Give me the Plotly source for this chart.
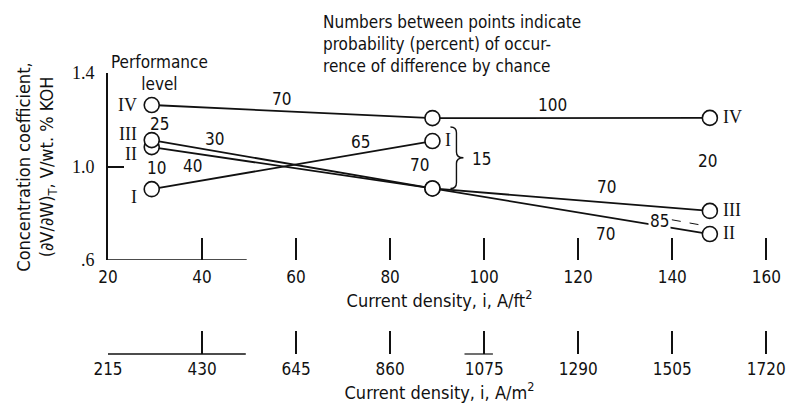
import plotly.graph_objects as go

# ---------------- data ----------------
levels = ["I", "II", "III", "IV"]
density_ft2 = [29.3, 89.0, 148.0]            # A/ft^2 at the three test points
coef_I = [0.903, 1.109]                       # level I (two points)
coef_II = [1.083, 0.906, 0.711]
coef_III = [1.113, 0.906, 0.810]
coef_IV = [1.263, 1.207, 1.208]

ft_ticks = [20, 40, 60, 80, 100, 120, 140, 160]
m2_ticks = [215, 430, 645, 860, 1075, 1290, 1505, 1720]
y_ticks = [0.6, 1.0, 1.4]
y_ticktext = [".6", "1.0", "1.4"]

# probability labels (percent) placed between points
prob_text = ["70", "100", "25", "30", "10", "40", "65", "70", "15", "20", "70", "85", "70"]
prob_x = [56.9, 114.5, 30.9, 42.7, 30.3, 38.05, 73.7, 86.2, 99.5, 147.6, 126.0, 137.3, 125.8]
prob_y = [1.289, 1.263, 1.182, 1.118, 0.994, 1.002, 1.106, 1.006, 1.032, 1.024, 0.912, 0.767, 0.711]

# ---------------- geometry ----------------
W, H = 793, 404
ML, MR, MT, MB = 108, 7, 73, 50
PW, PH = W - ML - MR, H - MT - MB
Y_AXIS_BOTTOM_PX = 260
ydom0 = (H - MB - Y_AXIS_BOTTOM_PX) / PH
FT_RANGE = [20, 161]
M2_PER_FT2 = 10.75

def px_to_paper(px, py):
    return (px - ML) / PW, (H - MB - py) / PH

SANS = "DejaVu Sans Condensed, DejaVu Sans, sans-serif"
SERIF = "Liberation Serif, DejaVu Serif, serif"
BLACK = "#111111"

fig = go.Figure()

line_style = dict(color=BLACK, width=1.8)
marker_style = dict(symbol="circle", size=15, color="white", line=dict(color=BLACK, width=1.6))

series = [("I", density_ft2[:2], coef_I), ("II", density_ft2, coef_II),
          ("III", density_ft2, coef_III), ("IV", density_ft2, coef_IV)]
for name, xs, ys in series:
    fig.add_trace(go.Scatter(x=xs, y=ys, mode="lines+markers", name=name,
                             line=line_style, marker=marker_style,
                             showlegend=False, hoverinfo="skip", cliponaxis=False))

# invisible trace to activate the SI axis
fig.add_trace(go.Scatter(x=[m2_ticks[0], m2_ticks[-1]], y=[None, None], xaxis="x2",
                         mode="markers", showlegend=False, hoverinfo="skip"))

# ---------------- annotations ----------------
ann = []
for t, x, y in zip(prob_text, prob_x, prob_y):
    a = dict(x=x, y=y, xref="x", yref="y", text=t, showarrow=False,
             xanchor="center", yanchor="middle",
             font=dict(family=SANS, size=17, color=BLACK))
    if t == "85" and x > 130:
        a["bgcolor"] = "white"
    ann.append(a)

# series labels
lab_font = dict(family=SERIF, size=18, color=BLACK)
left_shift = {"I": -8, "II": -7, "III": 6, "IV": 0}
for name, xs, ys in series:
    ann.append(dict(x=xs[0], y=ys[0], xref="x", yref="y", text=name, showarrow=False,
                    xanchor="right", yanchor="middle", xshift=-13, yshift=left_shift[name],
                    font=lab_font))
    ann.append(dict(x=xs[-1], y=ys[-1], xref="x", yref="y", text=name, showarrow=False,
                    xanchor="left", yanchor="middle", xshift=11, yshift=1, font=lab_font))

# explanatory note
nx, ny = px_to_paper(326, 10)
ann.append(dict(x=nx, y=ny, xref="paper", yref="paper", xanchor="left", yanchor="top",
                align="left", showarrow=False,
                text="Numbers between points indicate<br>probability (percent) of occur-<br>rence of difference by chance",
                font=dict(family=SANS, size=17, color=BLACK)))
px, py = px_to_paper(161, 73)
ann.append(dict(x=px, y=py, xref="paper", yref="paper", showarrow=False,
                xanchor="center", yanchor="middle",
                text="Performance<br>level", font=dict(family=SANS, size=17, color=BLACK)))
tx, ty = px_to_paper(34, 167)
ann.append(dict(x=tx, y=ty, xref="paper", yref="paper", showarrow=False, textangle=-90,
                xanchor="center", yanchor="middle",
                text="Concentration coefficient,<br>(∂V/∂W)<sub>T</sub>, V/wt. % KOH",
                font=dict(family=SANS, size=18, color=BLACK)))

# ---------------- shapes ----------------
shapes = []
# partial baseline of A/ft^2 axis
shapes.append(dict(type="line", xref="x", yref="y", x0=20, x1=49.5, y0=0.6, y1=0.6,
                   line=dict(color=BLACK, width=1.5)))
# partial baseline of A/m^2 axis
shapes.append(dict(type="line", xref="x2", yref="paper", x0=215, x1=530, y0=0, y1=0,
                   line=dict(color=BLACK, width=1.5)))
shapes.append(dict(type="line", xref="x2", yref="paper", x0=1030, x1=1095, y0=0, y1=0,
                   line=dict(color=BLACK, width=1.2)))
# brace grouping level I and II/III at the middle density
top = coef_I[1] + 0.06
bot = coef_II[1]
c = (top + bot) / 2
d = 0.025
path = (f"M 18,{top} Q 24,{top} 24,{top - d} L 24,{c + d} Q 24,{c} 31,{c} "
        f"Q 24,{c} 24,{c - d} L 24,{bot + d} Q 24,{bot} 18,{bot}")
shapes.append(dict(type="path", xref="x", yref="y", xsizemode="pixel", xanchor=density_ft2[1],
                   path=path, line=dict(color=BLACK, width=1.4)))
# dashed leader from "85"
shapes.append(dict(type="line", xref="x", yref="y", xsizemode="pixel", xanchor=density_ft2[2],
                   x0=-38, x1=-3, y0=0.772, y1=0.745,
                   line=dict(color=BLACK, width=1, dash="dash")))

tick_font = dict(family=SANS, size=17, color=BLACK)
fig.update_layout(
    width=W, height=H, autosize=False,
    margin=dict(l=ML, r=MR, t=MT, b=MB, pad=0),
    paper_bgcolor="white", plot_bgcolor="white",
    font=dict(family=SANS, size=17, color=BLACK),
    annotations=ann, shapes=shapes,
    xaxis=dict(range=FT_RANGE, anchor="y", tickvals=ft_ticks, ticks="inside", ticklen=22,
               tickwidth=1.6, tickcolor=BLACK, showline=False, showgrid=False, zeroline=False,
               ticklabelstandoff=5, tickfont=tick_font, ticklabeloverflow="allow",
               title=dict(text="Current density, i, A/ft<sup>2</sup>", standoff=2,
                          font=dict(family=SANS, size=18))),
    xaxis2=dict(range=[FT_RANGE[0] * M2_PER_FT2, FT_RANGE[1] * M2_PER_FT2], overlaying="x",
                anchor="free", position=0, side="bottom",
                tickvals=m2_ticks, ticks="inside", ticklen=23, tickwidth=1.6, tickcolor=BLACK,
                showline=False, showgrid=False, zeroline=False, ticklabelstandoff=3,
                tickfont=tick_font, ticklabeloverflow="allow",
                title=dict(text="Current density, i, A/m<sup>2</sup>", standoff=0,
                           font=dict(family=SANS, size=18))),
    yaxis=dict(range=[0.6, 1.4], domain=[ydom0, 1], tickvals=y_ticks, ticktext=y_ticktext,
               ticks="inside", ticklen=16, tickwidth=1.6, tickcolor=BLACK,
               showline=True, linecolor=BLACK, linewidth=1.8, showgrid=False, zeroline=False,
               ticklabelstandoff=8, tickfont=dict(family=SERIF, size=18)),
)

fig.write_html("out.html")
